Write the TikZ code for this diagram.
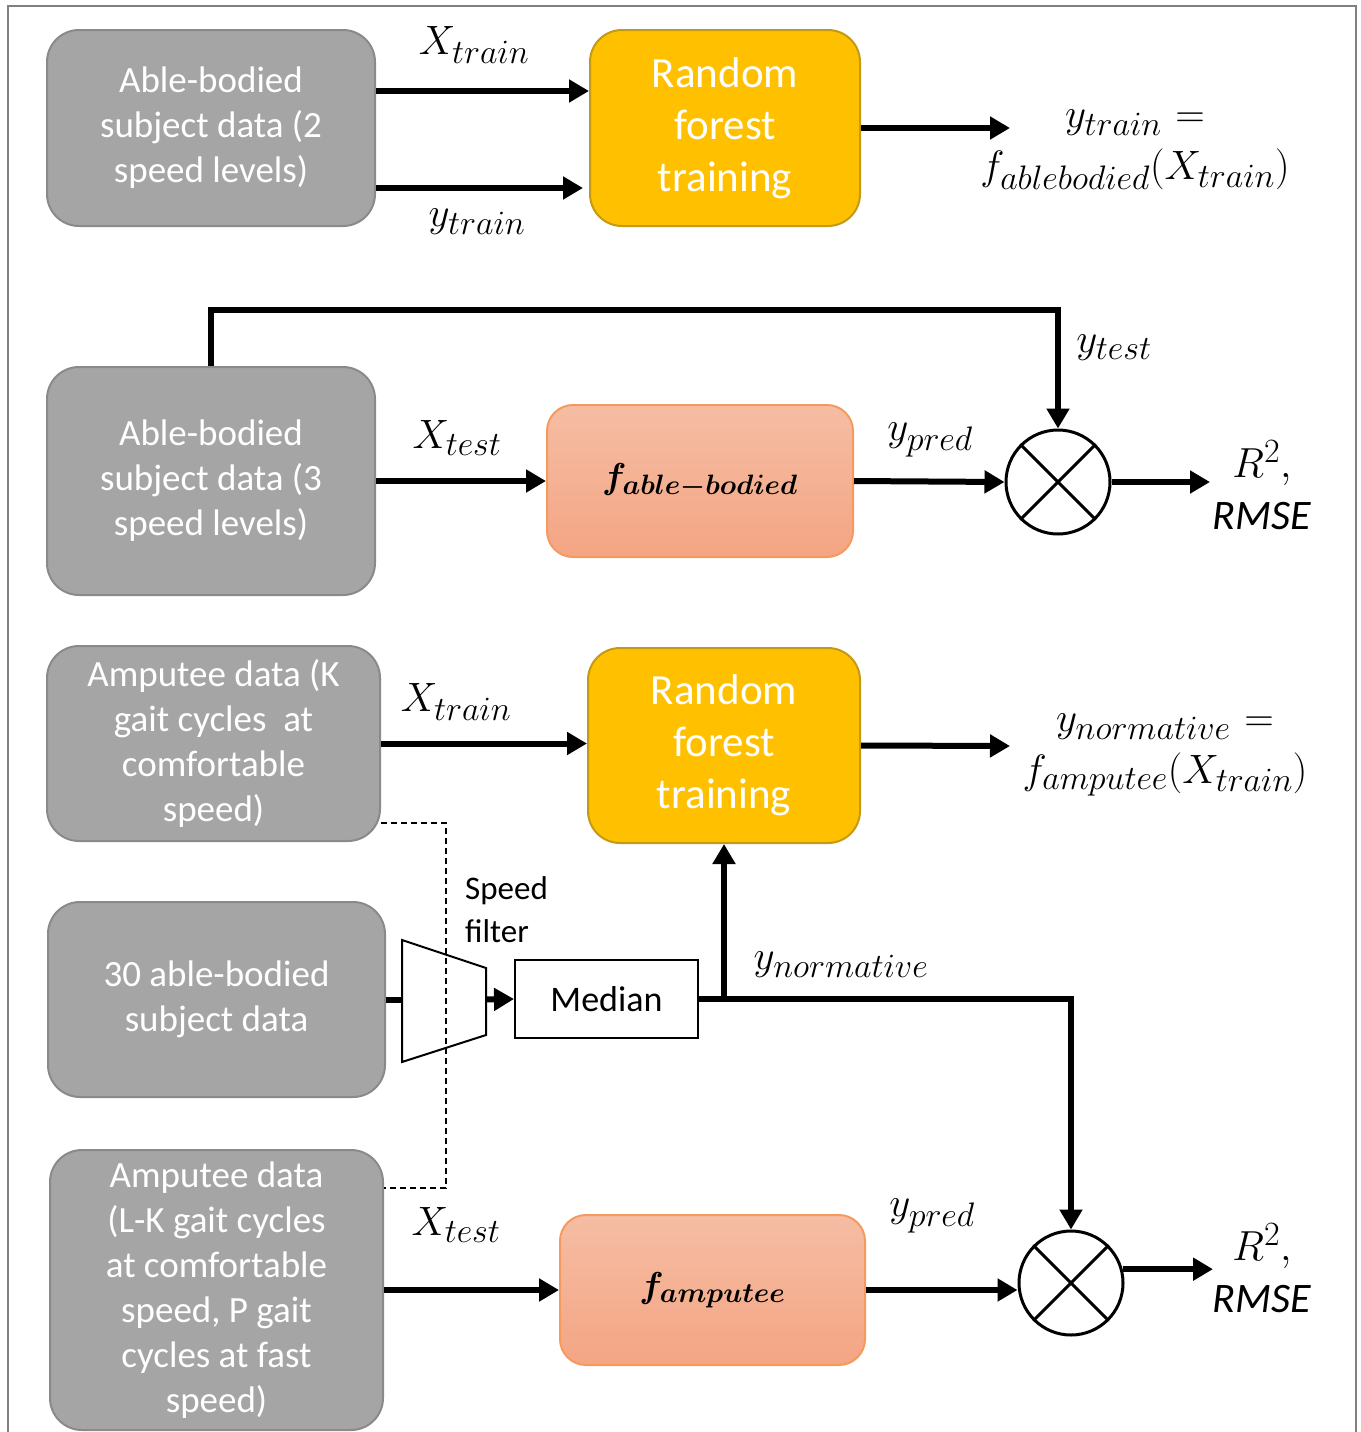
\RequirePackage{fix-cm}
\documentclass[tikz,border=0pt]{standalone}
\usepackage{fontspec}
\setmainfont{Carlito}
\usetikzlibrary{arrows.meta,calc}
\DeclareMathSizes{41}{41}{34}{24}
\DeclareMathSizes{36}{36}{28}{20}
\DeclareMathSizes{42}{42}{34}{24}
\definecolor{boxgray}{HTML}{A5A5A5}
\definecolor{boxgrayd}{HTML}{8A8A8A}
\definecolor{rfyellow}{HTML}{FFC000}
\definecolor{rfyellowd}{HTML}{C49A14}
\definecolor{ftop}{HTML}{F5BDA4}
\definecolor{fbot}{HTML}{F4A583}
\definecolor{fborder}{HTML}{F59A5E}
\definecolor{framegray}{HTML}{808080}
\begin{document}
\begin{tikzpicture}[x=1pt,y=-1pt,
  graybox/.style={rectangle, rounded corners=32pt, fill=boxgray, draw=boxgrayd, line width=2pt,
    text=white, align=center, inner sep=0pt, font=\fontsize{37}{45}\selectfont},
  rfbox/.style={rectangle, rounded corners=32pt, fill=rfyellow, draw=rfyellowd, line width=2pt,
    text=white, align=center, inner sep=0pt, font=\fontsize{43}{52}\selectfont},
  fnbox/.style={rectangle, rounded corners=26pt, top color=ftop, bottom color=fbot, draw=fborder,
    line width=2pt, inner sep=0pt, font=\fontsize{36}{40}\selectfont\boldmath},
  medbox/.style={rectangle, draw=black, line width=2pt, fill=white, inner sep=0pt,
    font=\fontsize{36}{40}\selectfont},
  comp/.style={circle, draw=black, line width=3pt, fill=white, minimum size=104pt, inner sep=0pt},
  mathlbl/.style={inner sep=0pt, font=\fontsize{41}{52}\selectfont, align=center},
  rlbl/.style={inner sep=0pt, font=\fontsize{42}{52}\selectfont, align=center},
  arr/.style={line width=6pt, -{Triangle[length=20pt,width=22pt]}},
  thickln/.style={line width=6pt},
  dashln/.style={line width=1.5pt, dash pattern=on 6pt off 4pt},
  cross/.style={line width=3pt}
]
\useasboundingbox (0,0) rectangle (1360,1432);
\draw[framegray, line width=1.5pt] (8,1450) -- (8,6) -- (1356,6) -- (1356,1450);

% ---- Row 1
\node[graybox, minimum width=328pt, minimum height=196pt] (b1) at (211,128)
  {Able-bodied\\subject data (2\\speed levels)};
\node[rfbox, minimum width=270pt, minimum height=196pt] (rf1) at (725,128)
  {Random\\forest\\training};
\coordinate (o1end) at (1010,128);
\draw[arr] ([yshift=37pt]b1.east) -- ([yshift=37pt]rf1.west);
\draw[arr] ([yshift=-60pt]b1.east) -- ([yshift=-60pt,xshift=-6pt]rf1.west);
\draw[arr] (rf1.east) -- (o1end);
\node[mathlbl] (lx1) at (474,45) {$X_{train}$};
\node[mathlbl] (ly1) at (477,222) {$y_{train}$};
\node[mathlbl] (lo1) at (1135,150) {$y_{train}\mkern6mu{=}$\\$f_{ablebodied}(X_{train})$};

% ---- Row 2
\node[graybox, minimum width=328pt, minimum height=228pt] (b2) at (211,481)
  {Able-bodied\\subject data (3\\speed levels)};
\node[fnbox, minimum width=306pt, minimum height=152pt] (fab) at (700,481)
  {$f_{able-bodied}$};
\node[comp] (c1) at (1058,482) {};
\draw[cross] (c1.north west) -- (c1.south east);
\draw[cross] (c1.north east) -- (c1.south west);
\coordinate (r1end) at (1210,482);
\draw[arr] (b2.east) -- (fab.west);
\draw[arr] (fab.east) -- (c1.west);
\draw[arr] (c1.east) -- (r1end);
\draw[arr] (b2.north) -- ++(0,-56) -| (c1.north);
\node[mathlbl] (lx2) at (457,438) {$X_{test}$};
\node[mathlbl] (lyp1) at (930,440) {$y_{pred}$};
\node[mathlbl] (lyt) at (1114,348) {$y_{test}$};
\node[rlbl] (lr1) at (1262,485) {$R^2,$\\\itshape RMSE};

% ---- Row 3
\node[graybox, minimum width=333pt, minimum height=195pt] (b3) at (213.5,743.5)
  {Amputee data (K\\gait cycles\ \ at\\comfortable\\speed)};
\node[rfbox, minimum width=272pt, minimum height=195pt] (rf2) at (724,745.5)
  {Random\\forest\\training};
\coordinate (o2end) at (1010,746);
\draw[arr] (b3.east) -- (b3.east -| rf2.west);
\draw[arr] (rf2.east) -- (o2end);
\node[mathlbl] (lx3) at (456,702) {$X_{train}$};
\node[mathlbl] (lo2) at (1165,755) {$y_{normative}\mkern6mu{=}$\\$f_{amputee}(X_{train})$};

% ---- Row 4
\node[graybox, minimum width=337pt, minimum height=195pt] (b4) at (216.5,999.5)
  {30 able-bodied\\subject data};
\node[graybox, minimum width=333pt, minimum height=280pt] (b5) at (216.5,1290)
  {Amputee data\\(L-K gait cycles\\at comfortable\\speed, P gait\\cycles at fast\\speed)};
\draw[dashln] ([yshift=-79.5pt]b3.east) -- ++(65,0) |- ([yshift=102pt]b5.east);

\coordinate (tz1) at (402,940);
\coordinate (tz2) at (486,968);
\coordinate (tz3) at (486,1035);
\coordinate (tz4) at (402,1062);
\coordinate (tzin) at (402,999.5);
\coordinate (tzout) at (486,999.5);
\draw[line width=2pt, line join=miter] (tz1) -- (tz2) -- (tz3) -- (tz4) -- cycle;
\node[inner sep=0pt, align=left, anchor=west, font=\fontsize{33}{43}\selectfont] (lsf) at (465,910)
  {Speed\\filter};
\node[medbox, minimum width=183pt, minimum height=78pt] (med) at (606.5,999) {Median};
\draw[thickln] (b4.east) -- (tzin);
\draw[arr] (tzout) -- (med.west);
\node[comp] (c2) at (1071,1283) {};
\draw[cross] (c2.north west) -- (c2.south east);
\draw[cross] (c2.north east) -- (c2.south west);
\draw[arr] (med.east) -| (c2.north);
\draw[arr] (rf2.south |- med.east) -- (rf2.south);
\node[mathlbl] (lyn) at (841,965) {$y_{normative}$};

% ---- Row 5
\node[fnbox, minimum width=305pt, minimum height=150pt] (famp) at (712.5,1290)
  {$f_{amputee}$};
\coordinate (r2end) at (1213,1268);
\draw[arr] (b5.east) -- (famp.west);
\draw[arr] (famp.east) -- (famp.east -| c2.west);
\draw[arr] (c2.15) -- (c2.15 -| r2end);
\node[mathlbl] (lx5) at (456,1225) {$X_{test}$};
\node[mathlbl] (lyp5) at (932,1216) {$y_{pred}$};
\node[rlbl] (lr2) at (1262,1268) {$R^2,$\\\itshape RMSE};
\end{tikzpicture}
\end{document}
